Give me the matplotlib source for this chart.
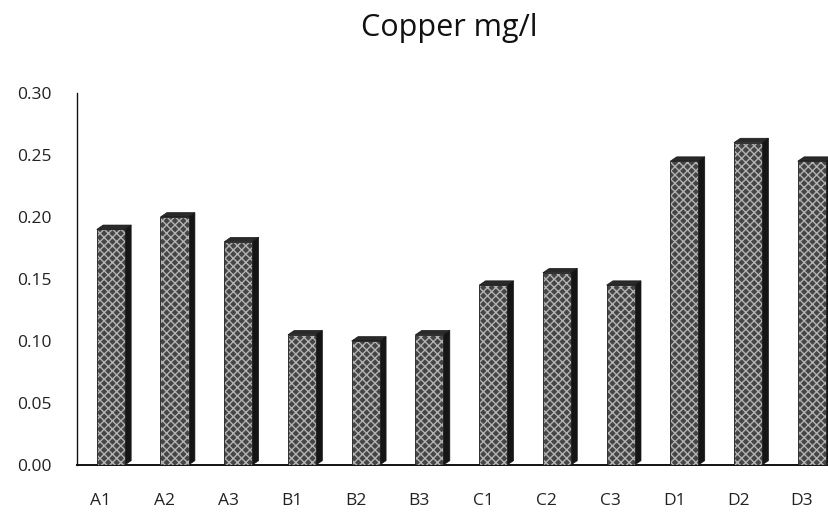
import matplotlib
matplotlib.use('Agg')
import matplotlib.pyplot as plt
from matplotlib.patches import Polygon
from matplotlib.transforms import ScaledTranslation

# Copper concentration per sampling point (mg/l)
samples = ['A1', 'A2', 'A3', 'B1', 'B2', 'B3', 'C1', 'C2', 'C3', 'D1', 'D2', 'D3']
copper = [0.19, 0.20, 0.18, 0.105, 0.10, 0.105, 0.145, 0.155, 0.145, 0.245, 0.26, 0.245]
yticks = [0.00, 0.05, 0.10, 0.15, 0.20, 0.25, 0.30]

plt.rcParams['font.family'] = ['Open Sans', 'DejaVu Sans']

fig = plt.figure(figsize=(8.29, 5.16), dpi=100)
ax = fig.add_axes([77 / 829, 51 / 516, 752 / 829, 372 / 516])

width = 0.44
depth_x = 0.10    # side face depth in data units
depth_y = 0.0035
xs = list(range(len(samples)))

bars = ax.bar(xs, copper, width=width, color='#454545', edgecolor='#1e1e1e',
              linewidth=0.6, hatch='xxxx', zorder=3)
for b in bars:
    b._hatch_color = (0.70, 0.70, 0.70, 1.0)

for x, v in zip(xs, copper):
    r = x + width / 2
    l = x - width / 2
    side = Polygon([(r, 0), (r + depth_x, depth_y), (r + depth_x, v + depth_y), (r, v)],
                   closed=True, facecolor='#151515', edgecolor='#151515', lw=0.5, zorder=2)
    top = Polygon([(l, v), (r, v), (r + depth_x, v + depth_y), (l + depth_x, v + depth_y)],
                  closed=True, facecolor='#2a2a2a', edgecolor='#151515', lw=0.5, zorder=2)
    ax.add_patch(side)
    ax.add_patch(top)

ax.set_xlim(-0.53, 11.27)
ax.set_ylim(0, 0.30)
ax.set_yticks(yticks)
ax.set_yticklabels([f'{t:.2f}' for t in yticks], fontsize=12.5, color='#222222')
ax.set_xticks(xs)
ax.set_xticklabels(samples, fontsize=12.5, color='#222222')
ax.tick_params(axis='both', length=0)
ax.tick_params(axis='y', pad=18)
ax.tick_params(axis='x', pad=20)

# shift category labels slightly left of the bar fronts
offset = ScaledTranslation(-10 / 100, 0, fig.dpi_scale_trans)
for lbl in ax.get_xticklabels():
    lbl.set_transform(lbl.get_transform() + offset)

for side in ['top', 'right']:
    ax.spines[side].set_visible(False)
ax.spines['left'].set_linewidth(1.0)
ax.spines['bottom'].set_linewidth(1.4)
ax.spines['left'].set_color('#111111')
ax.spines['bottom'].set_color('#111111')

fig.text(449 / 829, 1 - 28 / 516, 'Copper mg/l', ha='center', va='center',
         fontsize=22, color='#111111')

fig.savefig('out.png', dpi=100)
